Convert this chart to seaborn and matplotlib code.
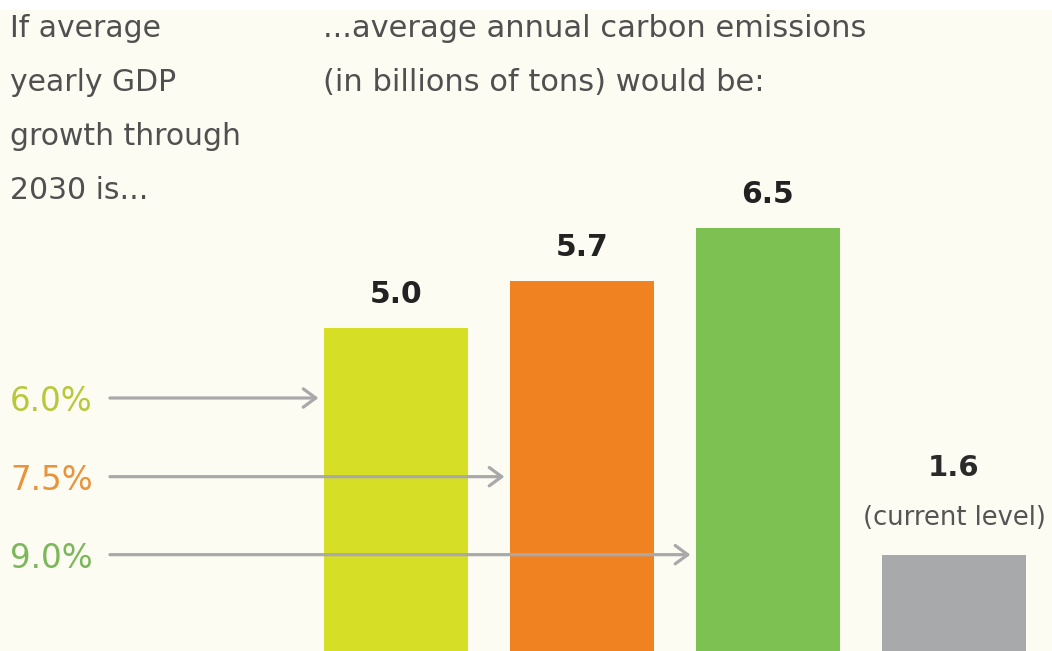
import matplotlib
matplotlib.use("Agg")
import matplotlib.pyplot as plt
from matplotlib.patches import Rectangle
import seaborn as sns
import pandas as pd

# Scenario data
scenarios = ["6.0%", "7.5%", "9.0%", "current"]
emissions = [5.0, 5.7, 6.5, 1.6]
bar_colors = ["#d6de26", "#f08222", "#7cc152", "#a7a9ab"]
growth_labels = ["6.0%", "7.5%", "9.0%"]
growth_colors = ["#b9c83a", "#e9933a", "#7cb85a"]
left_header = ["If average", "yearly GDP", "growth through", "2030 is..."]
right_header = ["...average annual carbon emissions", "(in billions of tons) would be:"]
current_note = "(current level)"

W, H, DPI = 1052, 651, 100
BG = "#fdfcf3"
TEXT = "#505050"

sns.set_theme(style="white")
plt.rcParams["font.family"] = ["DejaVu Sans"]

fig = plt.figure(figsize=(W / DPI, H / DPI), dpi=DPI, facecolor=BG)
ax = fig.add_axes([0, 0, 1, 1])
ax.set_facecolor(BG)

df = pd.DataFrame({"scenario": scenarios, "emissions": emissions})
bar_w = 0.774
sns.barplot(data=df, x="scenario", y="emissions", hue="scenario",
            palette=bar_colors, width=bar_w, legend=False, ax=ax,
            saturation=1, linewidth=0, edgecolor="none", zorder=2)

ax.set_xlim(-2.129, 3.527)
ax.set_ylim(0.155, 9.92)
ax.set_axis_off()

# Value labels above bars
for i, v in enumerate(emissions):
    if scenarios[i] == "current":
        ax.annotate(current_note, xy=(i, v), xytext=(0, 17), textcoords="offset points",
                    ha="center", va="bottom", fontsize=18.5, color="#555555")
        ax.annotate(f"{v:.1f}", xy=(i, v), xytext=(0, 52), textcoords="offset points",
                    ha="center", va="bottom", fontsize=21, fontweight="bold", color="#2a2a2a")
    else:
        ax.annotate(f"{v:.1f}", xy=(i, v), xytext=(0, 14), textcoords="offset points",
                    ha="center", va="bottom", fontsize=21.5, fontweight="bold", color="#222222")


def fx(px):
    return px / W


def fy(py):
    return 1 - py / H


# Header text
for k, line in enumerate(left_header):
    fig.text(fx(10), fy(37 + 54 * k), line, fontsize=21.5, color=TEXT, va="baseline", ha="left")
for k, line in enumerate(right_header):
    fig.text(fx(323), fy(37 + 54 * k), line, fontsize=22, color=TEXT, va="baseline", ha="left")

# Growth-rate labels with arrows pointing to their bars
arrow_rows = [3.95, 2.77, 1.60]
arrow_start = -1.538
for i, (lab, col, yv) in enumerate(zip(growth_labels, growth_colors, arrow_rows)):
    ax.text(-2.075, yv, lab, fontsize=23.5, color=col, ha="left", va="center_baseline")
    ax.annotate("", xy=(i - bar_w / 2, yv), xytext=(arrow_start, yv),
                arrowprops=dict(arrowstyle="->,head_length=0.45,head_width=0.33",
                                color="#a9a9a9", lw=2.3, shrinkA=0, shrinkB=4,
                                mutation_scale=20),
                zorder=5)

# thin white strip along the top edge
fig.patches.append(Rectangle((0, fy(10)), 1, 10 / H, transform=fig.transFigure,
                             facecolor="white", edgecolor="none", zorder=10))

fig.savefig("out.png", dpi=DPI, facecolor=BG)
